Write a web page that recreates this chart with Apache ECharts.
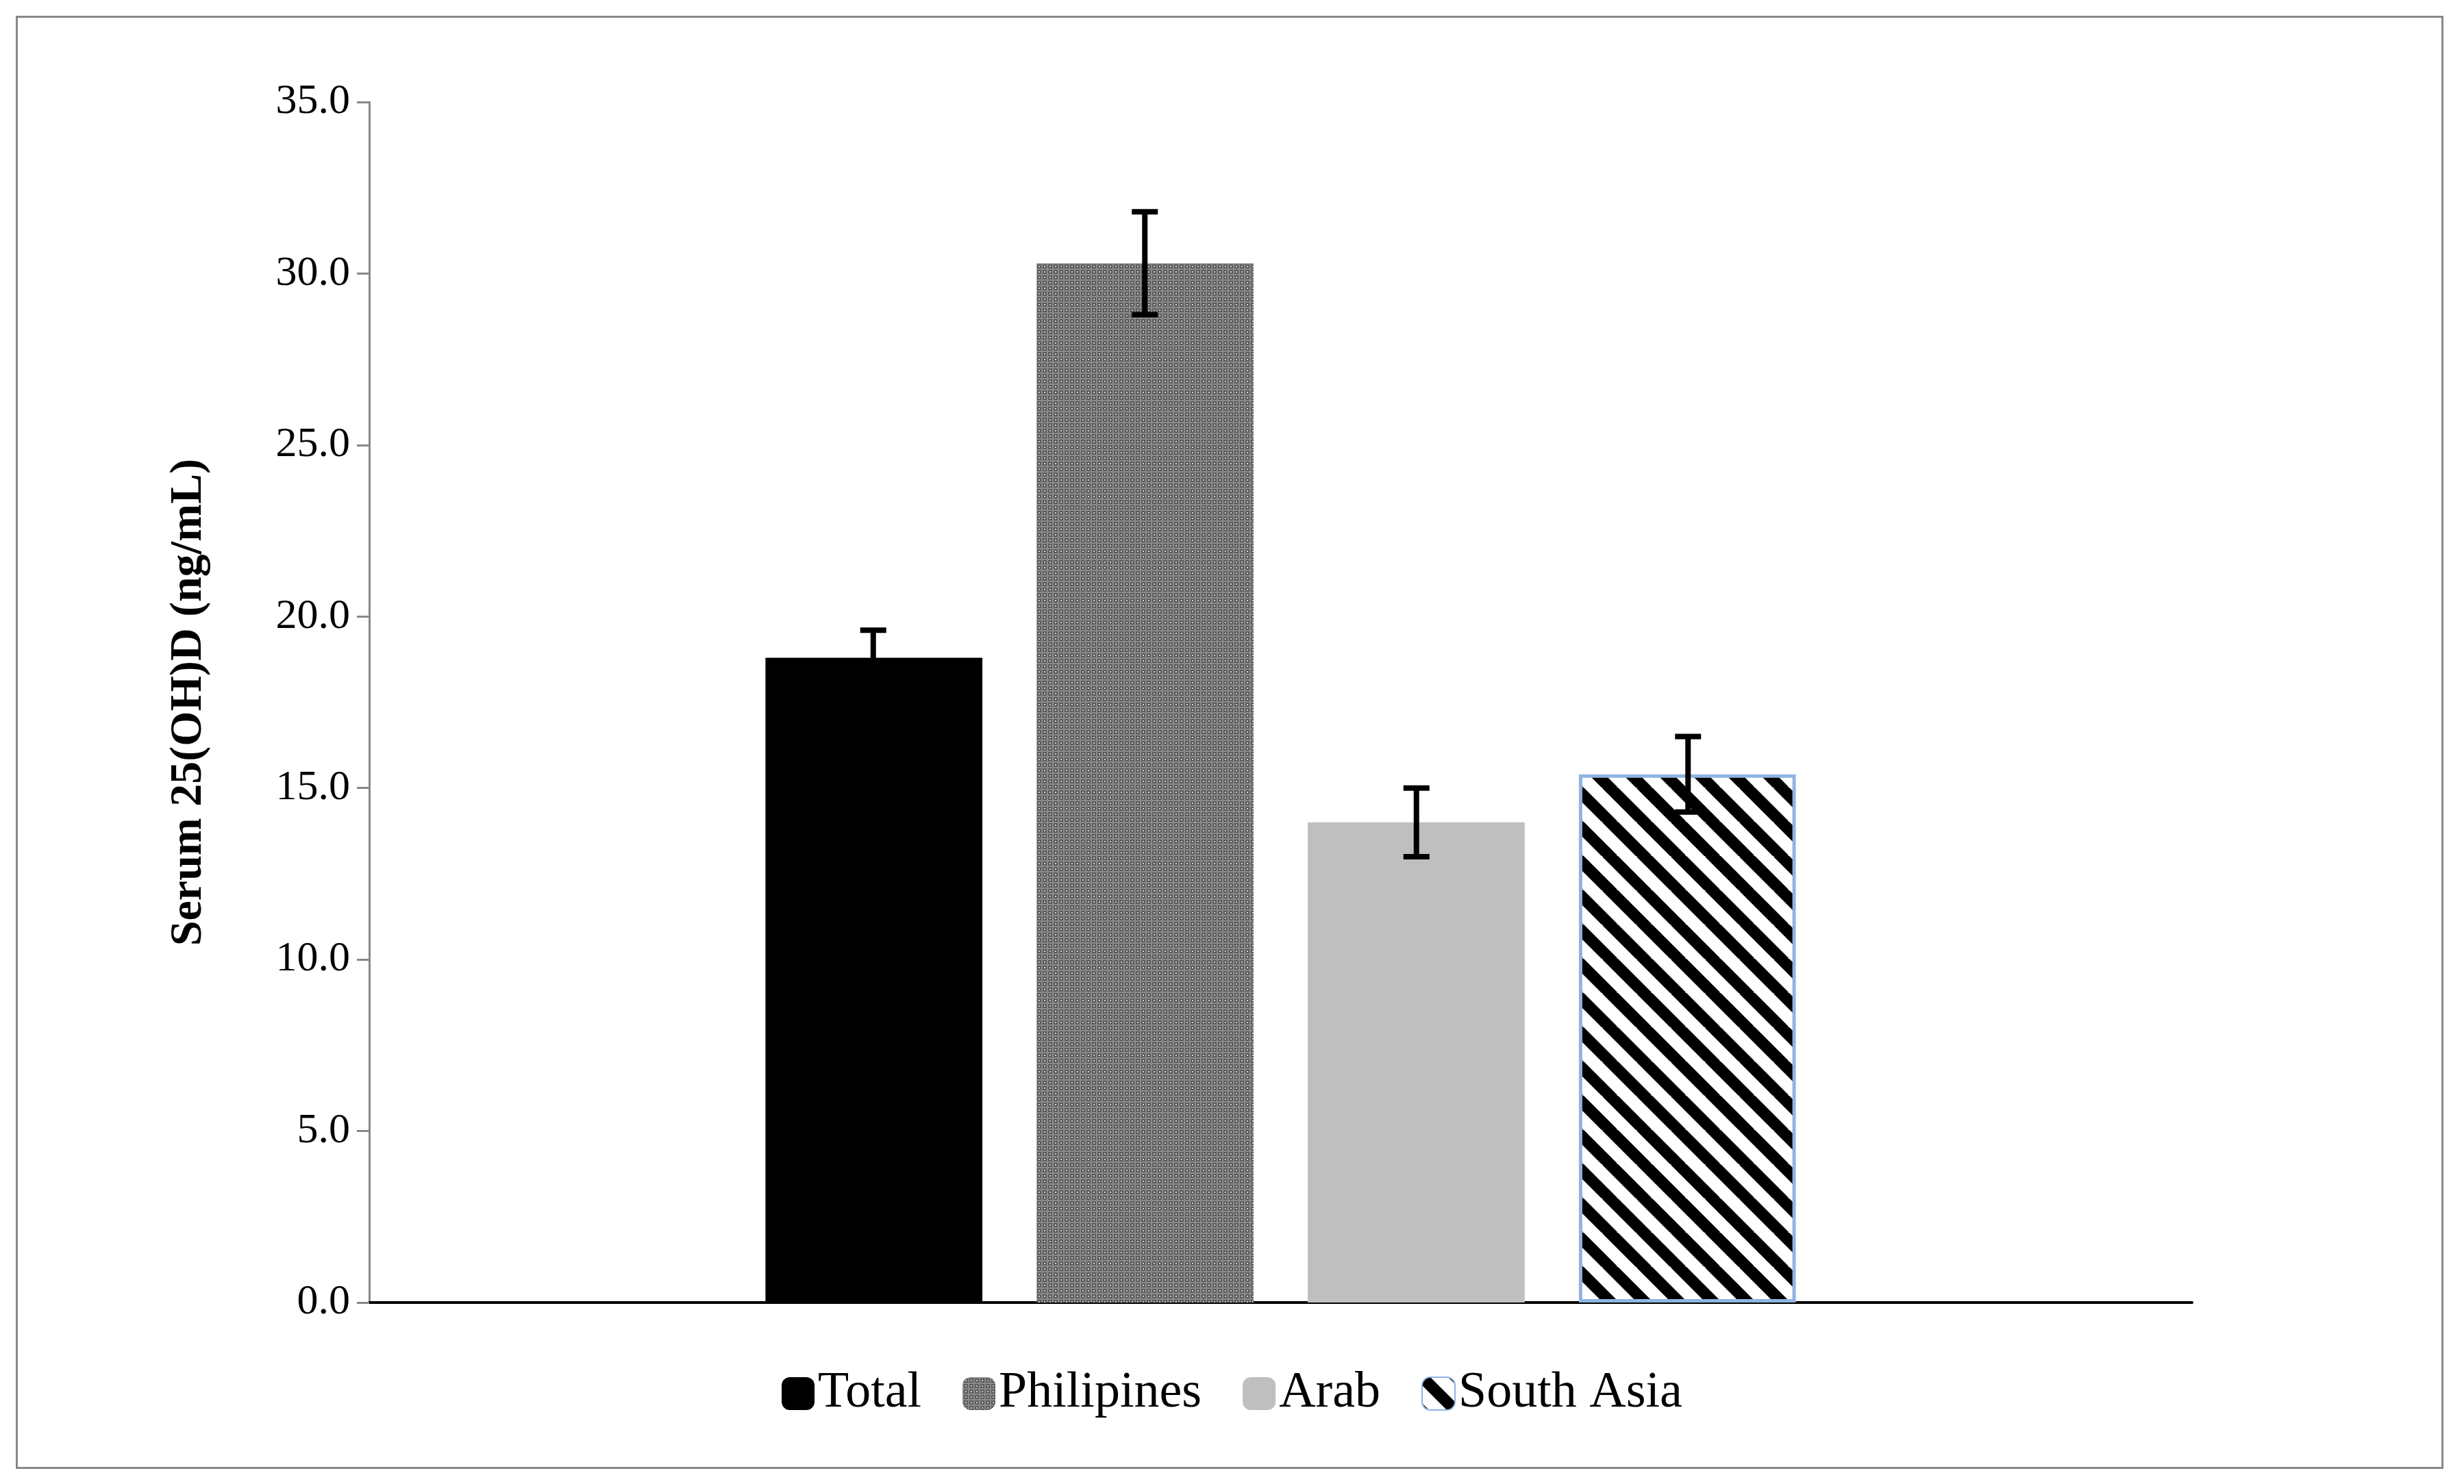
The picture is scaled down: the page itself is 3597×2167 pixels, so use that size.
<!DOCTYPE html>
<html><head><meta charset="utf-8">
<script src="https://cdn.jsdelivr.net/npm/echarts@6/dist/echarts.min.js"></script>
<style>html,body{margin:0;background:#fff}#c{width:3597px;height:2167px}
#f{position:absolute;left:23px;top:23px;width:3544px;height:2122px;border:3px solid #888;box-sizing:border-box;pointer-events:none}</style>
</head><body><div id="c"></div><div id="f"></div>
<script>
const categories = [''];
const seriesNames = ['Total', 'Philipines', 'Arab', 'South Asia'];
const means = [18.8, 30.3, 14.0, 15.4];
const errors = [0.8, 1.5, 1.0, 1.1];
const yTicks = {min: 0, max: 35, interval: 5};

function dotPattern(){
  const c=document.createElement('canvas');c.width=8;c.height=8;const g=c.getContext('2d');
  g.fillStyle='#5c5c5c';g.fillRect(0,0,8,8);
  g.fillStyle='#8a8a8a';g.fillRect(0,0,8,2);g.fillRect(0,0,2,8);
  g.fillStyle='#c8c8c8';g.fillRect(4,4,2,2);
  return c;
}
function stripePattern(){
  const p=50;const c=document.createElement('canvas');c.width=p;c.height=p;const g=c.getContext('2d');
  g.fillStyle='#fff';g.fillRect(0,0,p,p);
  g.strokeStyle='#000';g.lineWidth=17;
  for(let k=-1;k<=1;k++){g.beginPath();g.moveTo(k*p-5,-5);g.lineTo(k*p+p+5,p+5);g.stroke();}
  return c;
}
const fills=['#000000',{image:dotPattern(),repeat:'repeat'},'#bfbfbf',{image:stripePattern(),repeat:'repeat'}];
const legendColors=['#000000','#5c5c5c','#bfbfbf','#000000'];
const font='Liberation Serif';
const bw=0.119, step=0.149;

const chart=echarts.init(document.getElementById('c'));
const series=seriesNames.map((n,i)=>({
  name:n,type:'bar',data:[means[i]],barWidth:(bw*100)+'%',barGap:'25%',
  itemStyle:{color:fills[i],borderColor:i===3?'#8fb4e3':'transparent',borderWidth:i===3?5:0},
}));
series.push({
  type:'custom',silent:true,z:10,
  data:means.map((m,i)=>[i,m,errors[i]]),
  renderItem:(params,api)=>{
    const i=api.value(0),m=api.value(1),e=api.value(2);
    const band=api.size([1,0])[0];
    const cx=api.coord([0,0])[0]+(i-1.5)*step*band;
    const yt=api.coord([0,m+e])[1], yb=api.coord([0,m-e])[1];
    const st={stroke:'#000',lineWidth:8};
    return {type:'group',children:[
      {type:'line',shape:{x1:cx,y1:yt,x2:cx,y2:yb},style:st},
      {type:'line',shape:{x1:cx-19,y1:yt,x2:cx+19,y2:yt},style:st},
      {type:'line',shape:{x1:cx-19,y1:yb,x2:cx+19,y2:yb},style:st}]};
  }
});
chart.setOption({
  animation:false,
  grid:{left:539,right:397,top:149,bottom:265},
  legend:{bottom:90,left:'center',itemWidth:48,itemHeight:48,itemGap:60,
    textStyle:{fontFamily:font,fontSize:74,color:'#000'},
    data:seriesNames.map((n,i)=>({name:n,itemStyle:{color:i===1?fills[1]:(i===3?fills[3]:legendColors[i])}}))},
  xAxis:{type:'category',data:categories,axisLine:{lineStyle:{color:'#000',width:4}},axisTick:{show:false},axisLabel:{show:false}},
  yAxis:{type:'value',min:yTicks.min,max:yTicks.max,interval:yTicks.interval,
    name:'Serum 25(OH)D (ng/mL)',nameLocation:'middle',nameGap:230,
    nameTextStyle:{fontFamily:font,fontSize:66,fontWeight:'bold',color:'#000'},
    axisLine:{show:true,lineStyle:{color:'#888',width:3}},
    axisTick:{show:true,length:18,lineStyle:{color:'#888',width:3}},
    splitLine:{show:false},
    axisLabel:{fontFamily:font,fontSize:62,color:'#000',margin:28,formatter:v=>v.toFixed(1)}},
  series:series
});
</script></body></html>
